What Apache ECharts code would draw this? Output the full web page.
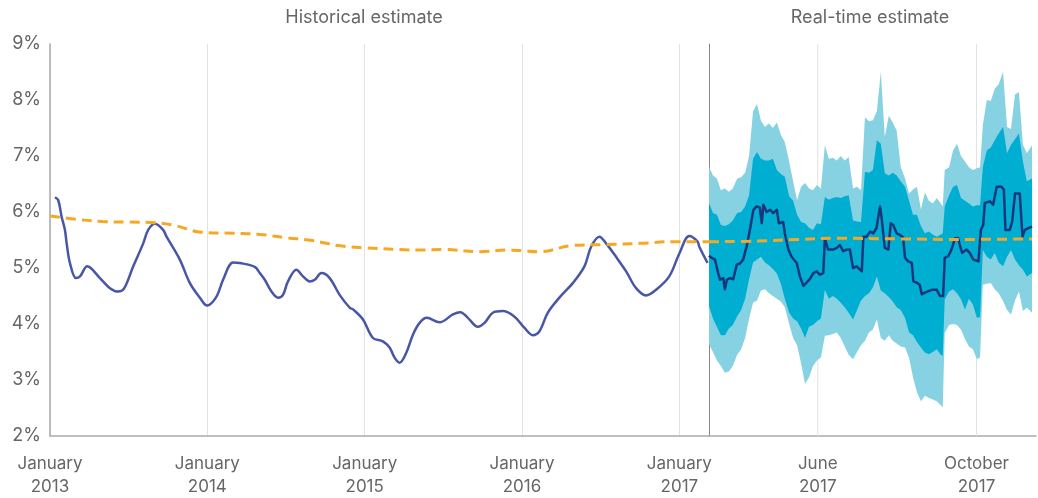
<!DOCTYPE html>
<html><head><meta charset="utf-8">
<script src="https://cdn.jsdelivr.net/npm/echarts@6/dist/echarts.min.js"></script>
<style>html,body{margin:0;padding:0;background:#fff}#c{width:1038px;height:498px}</style>
</head><body><div id="c"></div>
<script>
// ---------- DATA (x values in months since January 2013) ----------
const panelTitles = ['Historical estimate', 'Real-time estimate'];
const splitMonth = 50.26;   // start of the real-time panel (early March 2017)
const endMonth = 58.5;      // mid November 2017
const firstYear = 2013;
const yearTickLabel = 'January';
const rtTickMonths = [53, 57];
const rtTickLabels = ['June\n2017', 'October\n2017'];

const histMonths = [0.38,0.63,0.89,1.14,1.27,1.52,1.98,2.29,2.84,3.81,4.57,5.20,5.64,6.35,7.11,7.49,8.00,8.63,8.89,9.90,10.67,11.43,11.98,12.70,13.20,13.96,14.47,15.62,16.00,16.38,16.89,17.39,17.77,18.15,18.79,19.30,19.81,20.19,20.70,21.33,22.09,22.86,23.11,23.87,24.63,25.39,25.90,26.28,26.66,27.18,27.68,28.19,28.74,29.71,30.73,31.29,31.87,32.63,33.14,33.77,34.53,35.43,36.19,36.82,37.33,37.96,38.85,39.87,40.76,41.27,41.90,42.41,43.17,43.94,44.70,45.46,46.22,47.23,48.00,48.76,49.39,49.52,50.15];
const histRate = [6.26,6.21,5.91,5.68,5.44,5.09,4.82,4.85,5.03,4.82,4.64,4.58,4.63,5.03,5.44,5.68,5.79,5.68,5.56,5.15,4.73,4.47,4.33,4.49,4.79,5.10,5.09,5.02,4.91,4.79,4.58,4.47,4.52,4.76,4.97,4.85,4.76,4.79,4.91,4.82,4.52,4.29,4.26,4.08,3.75,3.69,3.58,3.40,3.31,3.49,3.81,4.02,4.11,4.03,4.17,4.21,4.11,3.95,4.02,4.20,4.23,4.13,3.93,3.80,3.87,4.20,4.47,4.73,5.03,5.38,5.56,5.44,5.20,4.94,4.64,4.51,4.61,4.85,5.26,5.57,5.47,5.38,5.09];

const trendMonthsHist = [0,2,4,6,8,9.5,11.5,14,16,18,20,22,24,26.7,28,30,32.8,34.8,36,37.3,39.8,42.4,45,47.5,49,50.26];
const trendRateHist = [5.93,5.87,5.83,5.82,5.81,5.76,5.64,5.62,5.60,5.54,5.49,5.40,5.36,5.33,5.32,5.33,5.29,5.32,5.31,5.29,5.40,5.42,5.44,5.47,5.47,5.47];
const trendMonthsRT = [50.26,51.5,52.5,53.5,55,56.5,58.4];
const trendRateRT = [5.47,5.48,5.51,5.53,5.52,5.51,5.52];

const rtLineMonths = [50.26,50.33,50.41,50.49,50.54,50.62,50.66,50.71,50.79,50.87,50.96,51.04,51.12,51.21,51.29,51.38,51.46,51.54,51.59,51.63,51.71,51.80,51.88,51.97,52.02,52.13,52.17,52.26,52.34,52.47,52.55,52.64,52.72,52.80,52.89,52.97,53.06,53.14,53.18,53.26,53.39,53.48,53.56,53.64,53.73,53.81,53.89,53.98,54.11,54.15,54.23,54.32,54.40,54.48,54.57,54.61,54.65,54.69,54.78,54.84,54.90,54.99,55.07,55.15,55.20,55.28,55.37,55.41,55.49,55.57,55.62,55.70,55.87,56.00,56.08,56.16,56.20,56.29,56.37,56.46,56.54,56.58,56.64,56.75,56.83,56.92,57.05,57.11,57.17,57.21,57.34,57.42,57.51,57.63,57.69,57.73,57.84,57.90,57.97,58.09,58.16,58.22,58.31,58.40];
const rtLineRate = [5.22,5.18,5.15,4.91,4.79,4.82,4.62,4.79,4.82,4.80,5.06,5.08,5.15,5.39,5.68,6.04,6.10,6.08,5.80,6.13,6.00,6.04,5.98,6.04,5.80,5.82,5.62,5.33,5.20,5.09,4.85,4.68,4.74,4.80,4.91,4.94,4.88,4.91,5.53,5.33,5.33,5.36,5.41,5.30,5.33,5.33,5.00,5.03,4.94,5.56,5.56,5.65,5.62,5.71,6.10,5.89,5.86,5.36,5.33,5.80,5.77,5.62,5.59,5.55,5.18,5.12,5.09,4.76,4.74,4.70,4.53,4.56,4.61,4.61,4.50,4.50,5.18,5.21,5.33,5.53,5.53,5.41,5.27,5.33,5.27,5.15,5.12,5.68,5.77,6.16,6.19,6.13,6.45,6.45,6.40,5.68,5.68,5.83,6.33,6.33,5.56,5.68,5.71,5.74];

const bandMonths = [50.26,50.36,50.46,50.56,50.66,50.76,50.86,50.97,51.07,51.17,51.27,51.37,51.47,51.57,51.67,51.77,51.87,51.97,52.07,52.17,52.28,52.38,52.48,52.58,52.68,52.78,52.88,52.98,53.08,53.18,53.28,53.38,53.48,53.58,53.68,53.78,53.89,53.99,54.09,54.19,54.29,54.39,54.49,54.59,54.69,54.79,54.89,54.99,55.09,55.20,55.30,55.40,55.50,55.60,55.70,55.80,55.90,56.00,56.10,56.15,56.20,56.31,56.41,56.51,56.61,56.71,56.81,56.91,57.01,57.09,57.16,57.26,57.36,57.46,57.56,57.67,57.77,57.87,57.97,58.07,58.17,58.27,58.40];
const outerHigh = [6.81,6.65,6.60,6.39,6.42,6.36,6.42,6.60,6.62,6.70,7.00,7.80,7.93,7.63,7.52,7.58,7.50,7.60,7.38,7.25,6.90,6.55,6.21,6.45,6.52,6.42,6.39,6.48,6.42,7.19,6.95,6.97,6.92,7.00,6.92,6.98,6.42,6.45,6.39,7.69,7.62,7.64,7.80,8.50,7.34,7.72,7.60,7.45,6.81,6.60,6.33,6.40,6.45,6.05,6.35,6.20,6.15,6.25,6.15,6.10,6.75,6.80,7.10,7.22,7.00,6.90,6.80,6.75,6.78,6.80,7.55,8.00,7.98,8.20,8.28,8.50,7.52,7.48,8.10,8.14,7.20,7.05,7.19];
const innerHigh = [6.16,5.98,5.95,5.77,5.75,5.78,5.85,5.98,6.00,6.10,6.30,6.95,7.07,6.95,6.92,6.92,6.95,6.75,6.68,6.63,6.28,6.20,5.95,5.82,5.80,5.72,5.68,5.80,5.78,6.27,6.22,6.25,6.27,6.25,6.28,6.30,5.85,5.83,5.82,6.72,6.70,6.75,7.28,7.22,6.69,6.65,6.70,6.65,6.55,6.45,6.20,5.95,5.95,5.75,5.62,5.65,5.60,5.56,5.60,5.62,6.10,6.30,6.45,6.48,6.25,6.20,6.15,6.10,6.12,6.12,6.80,7.10,7.15,7.28,7.40,7.52,7.05,7.20,7.30,7.40,6.90,6.55,6.60];
const innerLow = [4.32,4.10,3.95,3.80,3.80,3.92,3.98,4.14,4.25,4.45,4.80,5.10,5.15,5.20,5.10,5.05,4.98,4.90,4.72,4.45,4.20,4.10,4.05,3.92,3.75,3.95,3.98,4.05,4.10,4.61,4.45,4.50,4.45,4.38,4.30,4.20,4.08,4.25,4.42,4.50,4.55,4.65,4.85,4.60,4.55,4.48,4.40,4.30,4.25,4.11,3.85,3.80,3.68,3.58,3.49,3.46,3.50,3.55,3.45,3.43,4.44,4.58,4.62,4.55,4.44,4.26,4.45,4.35,4.11,4.12,5.32,5.20,5.15,5.27,5.10,5.03,5.20,5.32,5.15,5.05,4.97,4.85,4.91];
const outerLow = [3.64,3.50,3.35,3.25,3.13,3.15,3.25,3.45,3.55,3.75,4.10,4.38,4.42,4.60,4.62,4.55,4.50,4.45,4.40,4.30,4.00,3.75,3.62,3.30,2.93,3.05,3.25,3.35,3.40,3.79,3.80,3.82,3.85,3.75,3.60,3.45,3.37,3.50,3.62,3.70,3.85,3.90,4.08,3.75,3.70,3.80,3.70,3.65,3.60,3.58,3.40,3.05,2.78,2.62,2.72,2.68,2.65,2.62,2.55,2.51,3.84,3.98,4.00,3.98,3.90,3.73,3.60,3.55,3.37,3.40,4.70,4.72,4.73,4.62,4.55,4.41,4.25,4.17,4.42,4.58,4.23,4.29,4.20];

// ---------- CHART ----------
const FONT = 'Inter, "Noto Sans", sans-serif';
const TEXT = '#666666';
const Y_MIN = 2, Y_MAX = 9;
const zip = (a, b) => a.map((v, i) => [v, b[i]]);

const chart = echarts.init(document.getElementById('c'), null, {renderer: 'canvas'});
const axisLineStyle = {color: '#aaaaaa', width: 1.5};

chart.setOption({
  animation: false,
  backgroundColor: '#ffffff',
  grid: [
    {left: 50, right: 329, top: 44, bottom: 59},
    {left: 709, right: 2, top: 44, bottom: 59}
  ],
  graphic: [
    {type: 'text', x: 364, y: 18, style: {text: panelTitles[0], fill: TEXT, font: '18px ' + FONT, textAlign: 'center', textVerticalAlign: 'middle'}},
    {type: 'text', x: 870, y: 18, style: {text: panelTitles[1], fill: TEXT, font: '18px ' + FONT, textAlign: 'center', textVerticalAlign: 'middle'}}
  ],
  xAxis: [
    {
      type: 'value', gridIndex: 0, min: 0, max: splitMonth, interval: 12,
      axisLine: {show: true, onZero: false, lineStyle: axisLineStyle},
      axisTick: {show: false},
      splitLine: {show: true, lineStyle: {color: '#e3e3e3', width: 1}},
      axisLabel: {
        color: TEXT, fontSize: 17, fontFamily: FONT, lineHeight: 23, margin: 16,
        showMaxLabel: false,
        formatter: v => (Math.abs(v % 12) < 1e-6) ? yearTickLabel + '\n' + (firstYear + v / 12) : ''
      }
    },
    {
      type: 'value', gridIndex: 1, min: splitMonth, max: endMonth,
      axisLine: {show: true, onZero: false, lineStyle: axisLineStyle},
      axisTick: {show: false},
      splitLine: {show: false},
      axisLabel: {
        color: TEXT, fontSize: 17, fontFamily: FONT, lineHeight: 23, margin: 16,
        customValues: rtTickMonths,
        formatter: v => { const i = rtTickMonths.indexOf(v); return i >= 0 ? rtTickLabels[i] : ''; }
      }
    }
  ],
  yAxis: [
    {
      type: 'value', gridIndex: 0, min: Y_MIN, max: Y_MAX, interval: 1,
      axisLine: {show: true, onZero: false, lineStyle: axisLineStyle},
      axisTick: {show: false},
      splitLine: {show: false},
      axisLabel: {formatter: '{value}%', color: TEXT, fontSize: 18, fontFamily: FONT, margin: 9}
    },
    {
      type: 'value', gridIndex: 1, min: Y_MIN, max: Y_MAX, interval: 1,
      axisLine: {show: true, onZero: false, lineStyle: {color: '#888888', width: 1}},
      axisTick: {show: false},
      splitLine: {show: false},
      axisLabel: {show: false}
    }
  ],
  series: [
    {
      name: 'bands', type: 'custom', xAxisIndex: 1, yAxisIndex: 1, z: 2, silent: true,
      data: [[bandMonths[0], innerHigh[0]]],
      encode: {x: 0, y: 1},
      renderItem: function (params, api) {
        const poly = (hi, lo) => {
          const p = [];
          for (let i = 0; i < bandMonths.length; i++) p.push(api.coord([bandMonths[i], hi[i]]));
          for (let i = bandMonths.length - 1; i >= 0; i--) p.push(api.coord([bandMonths[i], lo[i]]));
          return p;
        };
        const children = rtTickMonths.map(m => {
          const a = api.coord([m, Y_MIN]), b = api.coord([m, Y_MAX]);
          return {type: 'line', shape: {x1: a[0], y1: a[1], x2: b[0], y2: b[1]}, style: {stroke: '#e3e3e3', lineWidth: 1}};
        });
        children.push({type: 'polygon', shape: {points: poly(outerHigh, outerLow)}, style: {fill: '#86d2e3'}});
        children.push({type: 'polygon', shape: {points: poly(innerHigh, innerLow)}, style: {fill: '#00aed2'}});
        return {type: 'group', children: children};
      }
    },
    {
      name: 'historical', type: 'line', xAxisIndex: 0, yAxisIndex: 0, z: 3,
      data: zip(histMonths, histRate), smooth: 0.35, showSymbol: false,
      lineStyle: {color: '#4856a6', width: 2.5}
    },
    {
      name: 'real-time', type: 'line', xAxisIndex: 1, yAxisIndex: 1, z: 3,
      data: zip(rtLineMonths, rtLineRate), showSymbol: false,
      lineStyle: {color: '#17377c', width: 2.5, join: 'round'}
    },
    {
      name: 'trend-hist', type: 'line', xAxisIndex: 0, yAxisIndex: 0, z: 4,
      data: zip(trendMonthsHist, trendRateHist), smooth: 0.4, showSymbol: false,
      lineStyle: {color: '#f7a823', width: 3, type: [10, 6]}
    },
    {
      name: 'trend-rt', type: 'line', xAxisIndex: 1, yAxisIndex: 1, z: 4,
      data: zip(trendMonthsRT, trendRateRT), smooth: 0.4, showSymbol: false,
      lineStyle: {color: '#f7a823', width: 3, type: [10, 6]}
    }
  ]
});
</script>
</body></html>
